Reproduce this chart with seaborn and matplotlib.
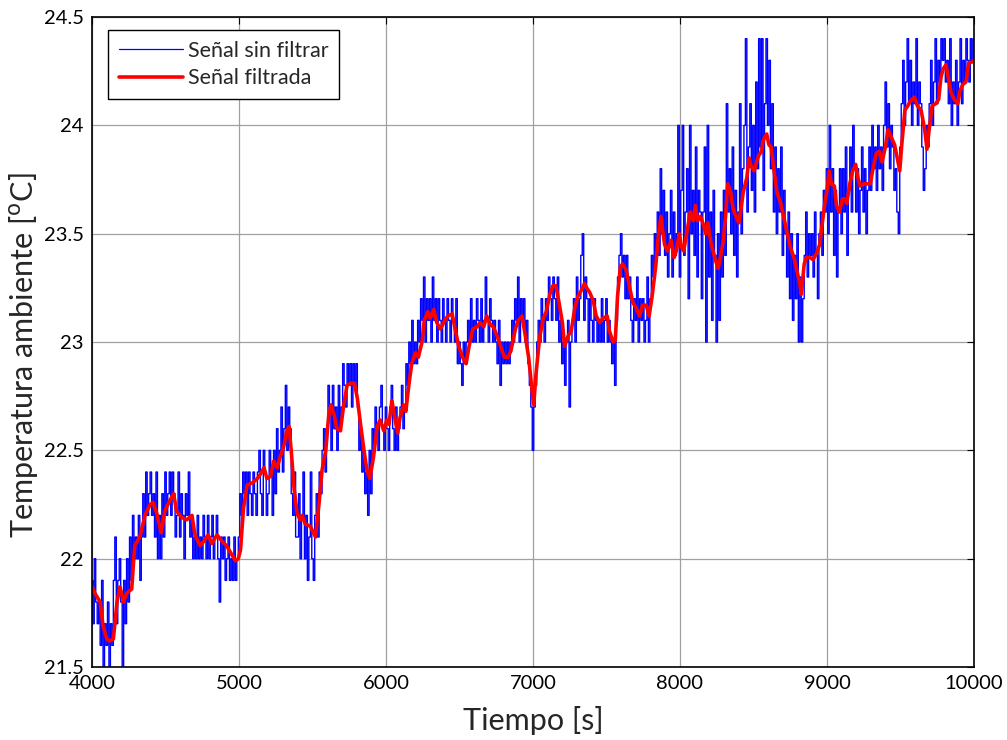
import numpy as np
import pandas as pd
import matplotlib
matplotlib.use("Agg")
import matplotlib.pyplot as plt
import seaborn as sns
from matplotlib.ticker import FuncFormatter, MultipleLocator

# Señal sin filtrar: décimas de grado, una muestra cada 10 s
sin_filtrar_4000 = [219, 217, 220, 218, 217, 218, 216, 219, 215, 217,
                    216, 218, 215, 217, 216, 219, 221, 217, 219, 220,
                    218, 215, 219, 217, 220, 218, 221, 219, 222, 220,
                    221, 220, 222, 219, 221, 223, 221, 224, 222, 223,
                    224, 222, 223, 221, 224, 220, 222, 220, 223, 221,
                    224, 222, 223, 224, 222, 224, 223, 221, 222, 224,
                    221, 223, 222, 220, 223, 222, 224, 221, 222, 220,
                    221, 220, 222, 220, 221, 220, 222, 221, 220, 222,
                    220, 221, 222, 220, 221, 222, 220, 218, 221, 220,
                    221, 219, 220, 221, 219, 220, 219, 221, 219, 220]
sin_filtrar_5000 = [221, 223, 222, 224, 223, 224, 222, 224, 223, 222,
                    224, 223, 222, 224, 225, 223, 222, 225, 224, 222,
                    223, 225, 224, 222, 225, 223, 226, 224, 225, 227,
                    224, 226, 228, 225, 227, 226, 223, 222, 224, 221,
                    221, 223, 220, 222, 224, 220, 222, 219, 221, 224,
                    220, 219, 222, 223, 221, 224, 223, 225, 226, 224,
                    226, 228, 227, 225, 228, 226, 227, 225, 228, 226,
                    227, 229, 228, 227, 229, 228, 229, 227, 229, 228,
                    229, 227, 225, 226, 224, 225, 223, 224, 222, 225,
                    223, 226, 225, 227, 226, 225, 227, 228, 226, 225]
sin_filtrar_6000 = [227, 226, 225, 227, 228, 226, 225, 227, 225, 226,
                    227, 228, 226, 227, 229, 228, 230, 229, 231, 229,
                    230, 229, 231, 230, 232, 231, 233, 230, 232, 231,
                    232, 230, 233, 231, 232, 230, 232, 231, 230, 232,
                    231, 230, 232, 231, 230, 232, 231, 230, 232, 229,
                    230, 229, 228, 230, 229, 230, 231, 230, 232, 230,
                    231, 230, 232, 231, 230, 232, 230, 231, 233, 231,
                    230, 232, 231, 230, 231, 230, 229, 231, 228, 230,
                    229, 230, 229, 230, 229, 230, 231, 230, 232, 231,
                    233, 230, 232, 231, 232, 230, 231, 229, 228, 227]
sin_filtrar_7000 = [225, 227, 228, 230, 231, 230, 232, 231, 230, 232,
                    231, 233, 232, 231, 233, 232, 231, 233, 230, 231,
                    229, 230, 228, 230, 231, 227, 230, 231, 232, 230,
                    233, 231, 232, 234, 235, 231, 233, 232, 230, 232,
                    231, 230, 232, 231, 230, 231, 230, 232, 230, 231,
                    232, 230, 231, 230, 229, 230, 228, 231, 233, 234,
                    235, 233, 234, 232, 234, 232, 233, 231, 230, 232,
                    231, 233, 230, 232, 231, 232, 230, 231, 233, 230,
                    232, 234, 233, 235, 234, 236, 234, 238, 235, 237,
                    234, 236, 233, 235, 237, 233, 236, 234, 235, 240]
sin_filtrar_8000 = [233, 237, 240, 234, 236, 238, 232, 240, 235, 237,
                    234, 239, 233, 237, 236, 232, 236, 239, 230, 240,
                    233, 236, 231, 237, 234, 230, 235, 231, 236, 233,
                    237, 234, 241, 236, 238, 235, 239, 234, 237, 233,
                    236, 241, 235, 238, 240, 244, 236, 239, 241, 237,
                    240, 236, 242, 238, 244, 239, 244, 237, 241, 244,
                    240, 243, 238, 241, 236, 239, 235, 238, 236, 239,
                    234, 237, 235, 233, 236, 232, 235, 231, 234, 232,
                    235, 230, 233, 230, 232, 234, 236, 233, 235, 234,
                    235, 233, 236, 234, 232, 235, 236, 234, 237, 236]
sin_filtrar_9000 = [238, 235, 240, 236, 238, 234, 237, 233, 236, 238,
                    235, 238, 236, 239, 234, 237, 239, 236, 240, 238,
                    236, 238, 235, 237, 239, 236, 238, 235, 237, 239,
                    237, 240, 238, 239, 237, 240, 238, 239, 237, 240,
                    242, 239, 241, 238, 240, 239, 237, 238, 236, 235,
                    239, 241, 243, 240, 242, 244, 241, 243, 240, 242,
                    241, 244, 240, 242, 241, 239, 237, 238, 240, 239,
                    241, 243, 240, 242, 244, 241, 243, 242, 244, 243,
                    244, 242, 243, 241, 244, 240, 242, 241, 243, 240,
                    242, 244, 241, 243, 242, 244, 243, 242, 244, 243,
                    244]

tiempo_filtrada = [4000, 4020, 4055, 4075, 4100, 4120, 4145, 4170, 4190, 4215,
                   4235, 4270, 4290, 4325, 4360, 4395, 4415, 4440, 4470, 4495,
                   4530, 4555, 4575, 4610, 4645, 4680, 4700, 4735, 4760, 4790,
                   4815, 4850, 4885, 4915, 4950, 4975, 4995, 5010, 5030, 5055,
                   5090, 5125, 5145, 5170, 5190, 5215, 5235, 5260, 5280, 5305,
                   5325, 5340, 5355, 5375, 5395, 5415, 5430, 5450, 5485, 5520,
                   5545, 5565, 5590, 5610, 5625, 5645, 5665, 5690, 5710, 5735,
                   5760, 5785, 5805, 5825, 5850, 5870, 5890, 5915, 5940, 5960,
                   5985, 6005, 6020, 6040, 6065, 6080, 6095, 6120, 6135, 6155,
                   6175, 6200, 6220, 6245, 6260, 6285, 6300, 6325, 6345, 6370,
                   6400, 6420, 6450, 6470, 6495, 6520, 6545, 6565, 6590, 6620,
                   6640, 6665, 6685, 6710, 6730, 6755, 6775, 6805, 6830, 6850,
                   6880, 6900, 6925, 6945, 6970, 6990, 7005, 7020, 7045, 7070,
                   7090, 7115, 7135, 7155, 7175, 7200, 7215, 7240, 7260, 7285,
                   7305, 7330, 7350, 7365, 7385, 7410, 7430, 7455, 7475, 7505,
                   7520, 7545, 7560, 7575, 7595, 7610, 7635, 7655, 7680, 7700,
                   7725, 7745, 7770, 7790, 7810, 7835, 7850, 7870, 7895, 7915,
                   7940, 7960, 7975, 7995, 8010, 8025, 8050, 8070, 8090, 8105,
                   8120, 8140, 8160, 8175, 8190, 8210, 8225, 8240, 8260, 8275,
                   8295, 8310, 8325, 8345, 8360, 8380, 8400, 8410, 8430, 8455,
                   8470, 8485, 8505, 8520, 8535, 8555, 8565, 8590, 8605, 8620,
                   8640, 8660, 8685, 8705, 8730, 8750, 8775, 8795, 8815, 8825,
                   8845, 8860, 8885, 8905, 8930, 8950, 8970, 8985, 9000, 9015,
                   9030, 9050, 9065, 9085, 9105, 9120, 9135, 9155, 9175, 9195,
                   9210, 9225, 9250, 9270, 9295, 9310, 9335, 9355, 9375, 9400,
                   9415, 9435, 9460, 9475, 9495, 9510, 9530, 9550, 9565, 9595,
                   9615, 9640, 9665, 9680, 9695, 9715, 9740, 9760, 9775, 9790,
                   9810, 9825, 9845, 9865, 9890, 9905, 9925, 9945, 9965, 9980,
                   10000]
temp_filtrada = [21.87, 21.84, 21.80, 21.69, 21.63, 21.62, 21.63, 21.80, 21.87, 21.80,
                 21.84, 21.86, 22.06, 22.10, 22.20, 22.25, 22.26, 22.21, 22.12, 22.22,
                 22.27, 22.30, 22.22, 22.19, 22.18, 22.20, 22.11, 22.06, 22.08, 22.11,
                 22.07, 22.11, 22.08, 22.06, 22.02, 21.99, 22.00, 22.04, 22.23, 22.34,
                 22.35, 22.37, 22.39, 22.42, 22.37, 22.38, 22.45, 22.42, 22.47, 22.52,
                 22.59, 22.61, 22.50, 22.32, 22.21, 22.18, 22.20, 22.16, 22.15, 22.10,
                 22.26, 22.41, 22.50, 22.66, 22.71, 22.67, 22.60, 22.59, 22.70, 22.80,
                 22.81, 22.81, 22.74, 22.63, 22.50, 22.41, 22.37, 22.47, 22.61, 22.64,
                 22.59, 22.64, 22.62, 22.73, 22.63, 22.58, 22.65, 22.71, 22.68, 22.80,
                 22.90, 22.95, 22.93, 23.00, 23.10, 23.14, 23.11, 23.15, 23.09, 23.06,
                 23.10, 23.12, 23.13, 23.06, 22.98, 22.93, 22.90, 22.98, 23.06, 23.07,
                 23.09, 23.07, 23.12, 23.08, 23.07, 23.03, 22.99, 22.93, 22.93, 22.96,
                 23.06, 23.10, 23.12, 23.04, 22.93, 22.80, 22.71, 22.85, 23.02, 23.11,
                 23.14, 23.22, 23.26, 23.26, 23.19, 23.09, 22.98, 23.03, 23.05, 23.16,
                 23.21, 23.24, 23.27, 23.25, 23.23, 23.19, 23.12, 23.09, 23.11, 23.12,
                 23.05, 23.00, 23.01, 23.21, 23.35, 23.36, 23.33, 23.26, 23.18, 23.16,
                 23.12, 23.17, 23.17, 23.12, 23.21, 23.35, 23.47, 23.58, 23.45, 23.42,
                 23.47, 23.39, 23.42, 23.50, 23.44, 23.42, 23.52, 23.60, 23.56, 23.63,
                 23.56, 23.58, 23.54, 23.50, 23.55, 23.46, 23.42, 23.38, 23.34, 23.39,
                 23.47, 23.58, 23.73, 23.69, 23.62, 23.58, 23.55, 23.59, 23.69, 23.76,
                 23.85, 23.81, 23.79, 23.83, 23.86, 23.88, 23.93, 23.96, 23.91, 23.90,
                 23.79, 23.69, 23.64, 23.58, 23.50, 23.44, 23.39, 23.33, 23.27, 23.22,
                 23.36, 23.39, 23.39, 23.38, 23.41, 23.45, 23.56, 23.64, 23.70, 23.79,
                 23.73, 23.72, 23.63, 23.60, 23.66, 23.66, 23.64, 23.73, 23.79, 23.82,
                 23.76, 23.72, 23.73, 23.73, 23.73, 23.79, 23.87, 23.88, 23.83, 23.91,
                 23.98, 23.95, 23.91, 23.86, 23.79, 23.92, 24.07, 24.09, 24.11, 24.13,
                 24.09, 24.07, 23.98, 23.89, 23.98, 24.09, 24.10, 24.12, 24.22, 24.26,
                 24.28, 24.22, 24.15, 24.12, 24.10, 24.16, 24.19, 24.20, 24.29, 24.29,
                 24.30]

crudo = (sin_filtrar_4000 + sin_filtrar_5000 + sin_filtrar_6000 +
         sin_filtrar_7000 + sin_filtrar_8000 + sin_filtrar_9000)
df_crudo = pd.DataFrame({"t": np.arange(4000, 10001, 10),
                         "temp": np.array(crudo) / 10.0})
df_filt = pd.DataFrame({"t": tiempo_filtrada, "temp": temp_filtrada})

sns.set_style("white")
plt.rcParams["font.family"] = ["Lato", "DejaVu Sans"]

fig = plt.figure(figsize=(10.07, 7.40), dpi=100)
ax = fig.add_axes([0.0914, 0.0986, 0.8758, 0.8784])

sns.lineplot(data=df_crudo, x="t", y="temp", ax=ax, color="#0000ff",
             linewidth=1.0, estimator=None, sort=False, drawstyle="steps-mid",
             label="Señal sin filtrar")
sns.lineplot(data=df_filt, x="t", y="temp", ax=ax, color="#ff0000",
             linewidth=2.6, estimator=None, sort=False, label="Señal filtrada")

ax.set_xlim(4000, 10000)
ax.set_ylim(21.5, 24.5)
ax.xaxis.set_major_locator(MultipleLocator(1000))
ax.yaxis.set_major_locator(MultipleLocator(0.5))
ax.yaxis.set_major_formatter(FuncFormatter(lambda v, p: f"{v:g}"))
ax.grid(True, color="#a0a0a0", linewidth=0.9, linestyle="-")
ax.set_axisbelow(True)
for s in ax.spines.values():
    s.set_color("black")
    s.set_linewidth(1.2)
ax.tick_params(direction="in", length=5, width=0.8, top=True, right=True,
               labelsize=14.5, colors="black", pad=6)

ax.set_xlabel("Tiempo [s]", fontsize=22, labelpad=10)
ax.set_ylabel("Temperatura ambiente [$^{\\mathrm{o}}$C]", fontsize=22)
ax.yaxis.set_label_coords(-0.059, 0.48)

leg = ax.legend(loc="upper left", fontsize=15.5, frameon=True, fancybox=False,
                edgecolor="black", framealpha=1, handlelength=3.0,
                handletextpad=0.2, borderpad=0.5, labelspacing=0.35,
                borderaxespad=0, bbox_to_anchor=(0.018, 0.98))
leg.get_frame().set_linewidth(1.0)
for line in leg.get_lines():
    line.set_linewidth(0.9 if line.get_color() == "#0000ff" else 2.6)

fig.savefig("out.png", dpi=100)
plt.close(fig)
